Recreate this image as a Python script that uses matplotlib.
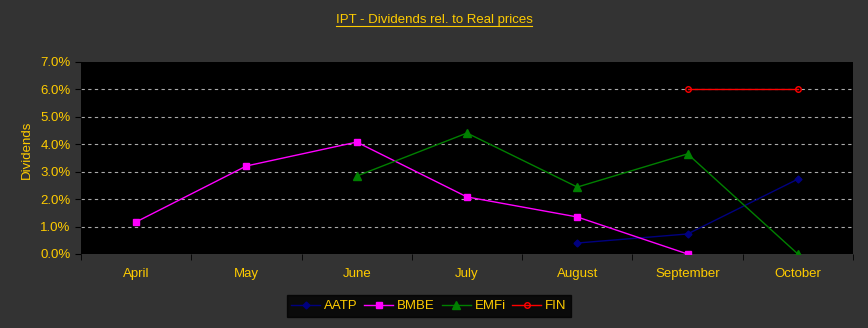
import matplotlib.pyplot as plt
from matplotlib.lines import Line2D
from matplotlib.ticker import FuncFormatter, FixedLocator
import numpy as np

months = ["April", "May", "June", "July", "August", "September", "October"]
nan = np.nan
aatp = [nan, nan, nan, nan, 0.40, 0.73, 2.73]
bmbe = [1.17, 3.21, 4.08, 2.08, 1.35, 0.0, nan]
emfi = [nan, nan, 2.84, 4.41, 2.44, 3.65, 0.0]
fin = [nan, nan, nan, nan, nan, 6.0, 6.0]

bg = "#333333"
gold = "#FFCC00"
plt.rcParams['font.family'] = ['Liberation Sans Narrow', 'Liberation Sans', 'DejaVu Sans']

fig = plt.figure(figsize=(8.68, 3.28), dpi=100, facecolor=bg)
ax = fig.add_axes([81/868, 74/328, 772/868, 192/328])
ax.set_facecolor("black")

x = np.arange(len(months))
ax.plot(x, aatp, color="#000080", marker="D", markersize=3.5, lw=1, label="AATP")
ax.plot(x, bmbe, color="#FF00FF", marker="s", markersize=5, lw=1, label="BMBE")
ax.plot(x, emfi, color="#008000", marker="^", markersize=6, lw=1, label="EMFi")
ax.plot(x, fin, color="#FF0000", marker="o", markersize=4, lw=1,
        markerfacecolor="none", label="FIN")

ax.set_xlim(-0.5, len(months) - 0.5)
ax.set_ylim(0, 7)
ax.set_yticks(np.arange(0, 8, 1))
ax.yaxis.set_major_formatter(FuncFormatter(lambda v, p: f"{v:.1f}%"))
for v in range(1, 7):
    ax.axhline(v, color="#aaaaaa", lw=0.8, ls=(0, (3, 3)), zorder=0)

ax.set_xticks(x)
ax.set_xticklabels(months)
ax.tick_params(axis="x", which="major", length=0, pad=10, colors=gold, labelsize=9.5)
ax.xaxis.set_minor_locator(FixedLocator(np.arange(-0.5, len(months), 1)))
ax.tick_params(axis="x", which="minor", length=4, color="black", direction="out")
ax.tick_params(axis="y", length=4, color="black", colors=gold, labelsize=9.5)
ax.tick_params(axis="y", color="black")
for s in ax.spines.values():
    s.set_visible(False)

fig.text(27/868, 1 - 150/328, "Dividends", rotation=90, color=gold,
         fontsize=9.5, ha="center", va="center")

title = fig.text(0.5, 1 - 20/328, "IPT - Dividends rel. to Real prices",
                 color=gold, fontsize=9.5, ha="center", va="center")
fig.canvas.draw()
bb = title.get_window_extent().transformed(fig.transFigure.inverted())
fig.add_artist(Line2D([bb.x0, bb.x1], [bb.y0, bb.y0], color=gold, lw=0.8,
                      transform=fig.transFigure))

leg = fig.legend(loc="center", bbox_to_anchor=(429/868, 1 - 306/328), ncol=4,
                 frameon=True, facecolor="black", edgecolor="black",
                 fontsize=9.5, handlelength=2.2, columnspacing=0.5,
                 handletextpad=0.3, borderpad=0.35, fancybox=False)
for t in leg.get_texts():
    t.set_color(gold)

fig.savefig("out.png", dpi=100, facecolor=bg)
